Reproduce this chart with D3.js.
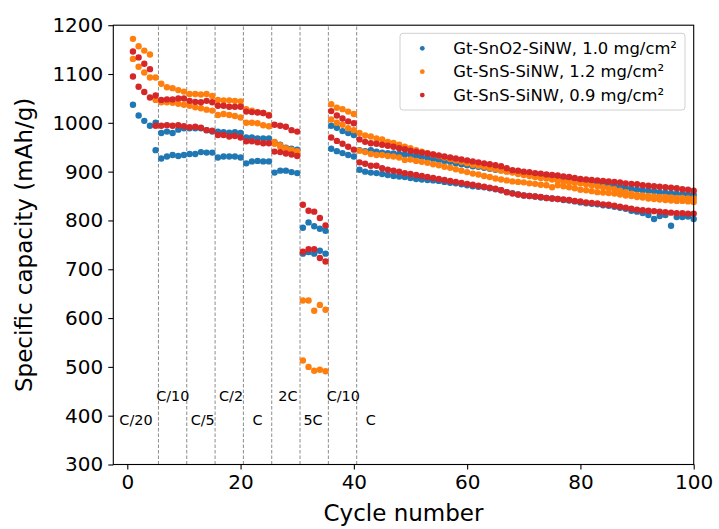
<!DOCTYPE html>
<html><head><meta charset="utf-8">
<script src="https://cdn.jsdelivr.net/npm/d3@7"></script>
<style>body{margin:0;background:#fff}svg{display:block;font-family:"DejaVu Sans",sans-serif}</style>
</head><body><svg id="c" width="719" height="529"></svg>
<script>
const cycles = d3.range(1, 101);
const seriesNames = ["Gt-SnO2-SiNW, 1.0 mg/cm²", "Gt-SnS-SiNW, 1.2 mg/cm²", "Gt-SnS-SiNW, 0.9 mg/cm²"];
const seriesColors = ["#1f77b4", "#ff7f0e", "#d62728"];
const blueA = [1037,1015,1004,994,1000, 979,982,979,986,989, 989,989,989,985,982, 982,981,980,981,979, 970,970,968,968,968, 960,955,949,947,945, 785,796,788,783,779, 994,990,983,979,975,
 944,942,944,941,939,938,937,936,935,934, 932,930,928,926,924,922,920,917,915,913, 911,910,908,906,904,903,901,899,897,895,
 894,892,891,889,888,887,885,884,882,881, 879,878,876,875,873,871,869,867,865,863, 862,861,860,858,857,856,855,854,853,852];
const blueB = [null,null,null,null,944, 927,931,934,932,934, 936,936,940,939,939, 929,931,931,931,929, 917,921,922,921,921, 898,902,902,899,897, 732,735,732,738,732, 947,942,938,934,931,
 904,900,898,897,895,893,891,890,889,887, 885,884,883,882,881,879,877,876,874,872, 870,869,868,866,864,862,858,856,853,851,
 850,849,847,846,845,844,842,841,839,837, 835,834,833,831,830,828,826,824,820,818, 815,811,803,809,811,789,807,807,808,803];
const orangeA = [1172,1157,1148,1140,1093, 1080,1073,1071,1067,1064, 1059,1059,1058,1059,1055, 1047,1046,1046,1045,1044, 1028,1025,1022,1020,1016, 961,954,948,945,942, 636,636,615,627,617, 1038,1031,1028,1023,1018,
 979,974,972,968,966,961,959,955,951,948, 944,941,938,935,932,929,926,923,920,917, 914,912,910,907,905,902,900,898,895,893,
 891,889,887,886,884,882,880,879,877,876, 874,872,870,868,866,864,861,858,855,852, 851,850,849,848,848,847,846,846,845,845];
const orangeB = [1131,1115,1103,1093,1047, 1042,1042,1041,1039,1037, 1035,1032,1030,1027,1025, 1016,1018,1016,1014,1011, 1000,1000,999,995,993, 957,951,946,941,937, 513,500,492,494,491, 1007,1000,996,989,985,
 943,940,936,934,934,932,931,929,924,925, 922,920,918,915,913,910,908,905,902,899, 896,894,891,889,886,884,882,880,879,878,
 876,875,873,872,868,872,870,868,866,863, 862,860,858,857,856,855,853,851,850,848, 847,845,844,843,842,841,840,840,839,838];
const redA = [1146,1134,1121,1110,1056, 1047,1048,1048,1050,1050, 1045,1043,1042,1045,1042, 1035,1035,1033,1033,1033, 1023,1022,1021,1020,1015, 996,994,992,985,982, 832,820,818,805,790, 1024,1015,1009,1003,999,
 966,961,958,957,955,953,951,948,946,943, 941,939,937,935,933,931,929,927,925,923, 921,919,917,915,913,911,907,903,902,900,
 899,897,896,894,893,892,890,889,887,885, 884,883,882,881,880,879,878,876,875,874, 872,871,870,869,868,867,866,864,863,861];
const redB = [1095,1074,1063,1052,994, 994,995,994,995,993, 991,992,990,985,984, 975,975,972,973,970, 962,962,960,958,958, 941,940,937,935,932, 736,741,741,723,716, 970,963,957,951,945,
 919,916,912,912,907,904,902,900,897,895, 893,891,889,887,885,883,881,879,877,875, 873,871,869,867,865,862,858,855,853,851,
 850,849,848,846,845,844,843,842,840,839, 837,836,835,833,832,830,828,826,824,822, 821,820,819,818,817,816,815,815,814,814];
const xTicks = [0, 20, 40, 60, 80, 100];
const yTicks = [300, 400, 500, 600, 700, 800, 900, 1000, 1100, 1200];
const rateBoundaries = [5.5, 10.5, 15.5, 20.5, 25.5, 30.5, 35.5, 40.5];
const rateText = ["C/20", "C/10", "C/5", "C/2", "C", "2C", "5C", "C/10", "C"];
const rateX = [-1.4, 5.1, 11.2, 16.2, 22.1, 26.65, 31.1, 35.2, 42.1];
const rateY = [380, 430, 380, 430, 380, 430, 380, 430, 380];

const svg = d3.select("#c");
const L = 113.3, R = 693.7, T = 25.2, B = 464.5;
const x = d3.scaleLinear().domain([-2.47, 100]).range([L, R]);
const y = d3.scaleLinear().domain([300, 1200]).range([B, T]);

svg.append("g").selectAll("line").data(rateBoundaries).join("line")
  .attr("x1", d => x(d)).attr("x2", d => x(d)).attr("y1", y(300)).attr("y2", y(1200))
  .attr("stroke", "#7f7f7f").attr("stroke-width", 0.9).attr("stroke-dasharray", "3.5,2");

const groups = [[blueA, blueB], [orangeA, orangeB], [redA, redB]];
groups.forEach((g, i) => {
  const pts = [];
  g.forEach(arr => arr.forEach((v, k) => { if (v != null) pts.push([cycles[k], v]); }));
  svg.append("g").selectAll("circle").data(pts).join("circle")
    .attr("cx", d => x(d[0])).attr("cy", d => y(d[1])).attr("r", 3.2)
    .attr("fill", seriesColors[i]);
});

svg.append("g").selectAll("text").data(rateText).join("text")
  .attr("x", (d, i) => x(rateX[i])).attr("y", (d, i) => y(rateY[i]))
  .attr("font-size", 14.4).attr("fill", "#000").text(d => d);

const xAxis = d3.axisBottom(x).tickValues(xTicks).tickFormat(d3.format("d")).tickSize(5).tickPadding(5);
const yAxis = d3.axisLeft(y).tickValues(yTicks).tickFormat(d3.format("d")).tickSize(5).tickPadding(5);
const gx = svg.append("g").attr("transform", `translate(0,${B})`).call(xAxis);
const gy = svg.append("g").attr("transform", `translate(${L},0)`).call(yAxis);
[gx, gy].forEach(g => {
  g.select(".domain").remove();
  g.selectAll("line").attr("stroke", "#000").attr("stroke-width", 1.1);
  g.selectAll("text").attr("font-size", 20).attr("font-family", "DejaVu Sans").attr("fill", "#000");
});
svg.append("rect").attr("x", L).attr("y", T).attr("width", R - L).attr("height", B - T)
  .attr("fill", "none").attr("stroke", "#000").attr("stroke-width", 1.1);

svg.append("text").attr("x", (L + R) / 2).attr("y", 521).attr("text-anchor", "middle")
  .attr("font-size", 23).text("Cycle number");
svg.append("text").attr("transform", `translate(32,${(T + B) / 2}) rotate(-90)`).attr("text-anchor", "middle")
  .attr("font-size", 23).text("Specific capacity (mAh/g)");

const lg = svg.append("g");
lg.append("rect").attr("x", 400).attr("y", 33.3).attr("width", 285).attr("height", 76.7).attr("rx", 3)
  .attr("fill", "#fff").attr("fill-opacity", 0.8).attr("stroke", "#d0d0d0").attr("stroke-width", 1);
seriesNames.forEach((n, i) => {
  const cy = 48.3 + i * 23.4;
  lg.append("circle").attr("cx", 422.3).attr("cy", cy).attr("r", 2.4).attr("fill", seriesColors[i]);
  lg.append("text").attr("x", 453.3).attr("y", cy).attr("dy", "0.35em").attr("font-size", 16.4).text(n);
});
</script></body></html>
